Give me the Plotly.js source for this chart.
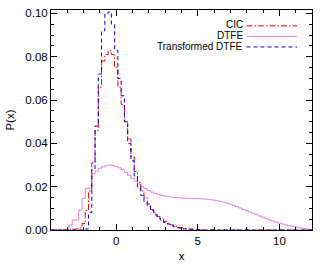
<!DOCTYPE html>
<html>
<head>
<meta charset="utf-8">
<script src="https://cdn.plot.ly/plotly-3.0.1.min.js"></script>
<style>html,body{margin:0;padding:0;background:#fff;}#chart{width:322px;height:270px;}</style>
</head>
<body>
<div id="chart"></div>
<script>
// Bin centres (bin width 0.2) from -4 to 12
const binStart = -4, binWidth = 0.2, nBins = 81;
const binCenters = [];
for (let i = 0; i < nBins; i++) binCenters.push(+(binStart + i * binWidth).toFixed(1));

// CIC values for bins centred from -2.8 to 5.0 (zeros elsewhere)
const cicFrom = -2.8;
const cicValues = [0.0003, 0.0004, 0.0005, 0.001, 0.003, 0.009, 0.018, 0.031, 0.046, 0.066,
  0.078, 0.081, 0.0828, 0.081, 0.075, 0.066, 0.058, 0.050, 0.042, 0.034,
  0.027, 0.022, 0.018, 0.015, 0.012, 0.0095, 0.0078, 0.0062, 0.005, 0.004,
  0.003, 0.0024, 0.0018, 0.0013, 0.001, 0.0007, 0.0005, 0.0004, 0.0003, 0.0002];

// DTFE values for bins centred from -2.8 to 12.0
const dtfeFrom = -2.8;
const dtfeValues = [0.0023, 0.0046, 0.0046, 0.0092, 0.0146, 0.0193, 0.0193, 0.026, 0.0272, 0.0285,
  0.0292, 0.0297, 0.0300, 0.0298, 0.0294, 0.0287, 0.0279, 0.0265, 0.0252, 0.0238,
  0.0225, 0.0213, 0.0201, 0.0191, 0.0182, 0.0175, 0.0169, 0.0164, 0.0160, 0.0157,
  0.0154, 0.0152, 0.0150, 0.0149, 0.0148, 0.0147, 0.0146, 0.0146, 0.0145, 0.0145,
  0.0144, 0.0143, 0.0142, 0.0140, 0.0138, 0.0135, 0.0132, 0.0128, 0.0124, 0.0119,
  0.0114, 0.0108, 0.0102, 0.0095, 0.0089, 0.0083, 0.0077, 0.0071, 0.0065, 0.0059,
  0.0053, 0.0047, 0.0042, 0.0037, 0.0032, 0.0028, 0.0024, 0.0020, 0.0017, 0.0014,
  0.0011, 0.0008, 0.0006, 0.0004, 0.0003];

// Transformed DTFE values for bins centred from -2.0 to 5.0
const tdtfeFrom = -2.0;
const tdtfeValues = [0.0002, 0.0005, 0.008, 0.028, 0.048, 0.072, 0.092, 0.100, 0.1007, 0.095,
  0.083, 0.070, 0.062, 0.050, 0.040, 0.032, 0.025, 0.020, 0.016, 0.013,
  0.011, 0.009, 0.007, 0.0055, 0.0045, 0.0035, 0.0028, 0.002, 0.0015, 0.001,
  0.0007, 0.0005, 0.0004, 0.0003, 0.0002, 0.0002];

const seriesNames = ["CIC", "DTFE", "Transformed DTFE"];
const seriesColors = ["#ff0000", "#e47ae4", "#0000ff"];
const seriesDash = ["6px,2px,1.5px,2px", "solid", "4px,3px"];

function fullSeries(from, vals) {
  const out = [];
  const off = Math.round((from - binStart) / binWidth);
  for (let i = 0; i < nBins; i++) {
    const j = i - off;
    out.push(j >= 0 && j < vals.length ? vals[j] : 0);
  }
  return out;
}

const ys = [fullSeries(cicFrom, cicValues), fullSeries(dtfeFrom, dtfeValues), fullSeries(tdtfeFrom, tdtfeValues)];
const order = [1, 0, 2];
const traces = order.map(k => ({
  x: binCenters, y: ys[k], type: "scatter", mode: "lines",
  line: {shape: "hvh", color: seriesColors[k], width: 1, dash: seriesDash[k]},
  name: seriesNames[k], showlegend: false, hoverinfo: "skip", cliponaxis: true
}));

const legendY = [0.932, 0.884, 0.836];
const annotations = [], shapes = [];
seriesNames.forEach((n, k) => {
  annotations.push({xref: "paper", yref: "paper", x: 0.741, y: legendY[k], xanchor: "right", yanchor: "middle",
    text: n, showarrow: false, borderpad: 0, height: 9, valign: "middle",
    font: {family: "Liberation Sans, Arial, sans-serif", size: 10, color: "#000"}});
  shapes.push({type: "line", xref: "paper", yref: "paper", x0: 0.749, x1: 0.943, y0: legendY[k] - 0.004, y1: legendY[k] - 0.004,
    line: {color: seriesColors[k], width: 1, dash: seriesDash[k]}});
});

const axisFont = {family: "Liberation Sans, Arial, sans-serif", size: 11.5, color: "#000"};
const layout = {
  width: 322, height: 270,
  margin: {l: 51, r: 10, t: 10, b: 40},
  paper_bgcolor: "#fff", plot_bgcolor: "#fff",
  showlegend: false,
  font: axisFont,
  xaxis: {range: [-4, 12], tickvals: [0, 5, 10], ticktext: ["0", "5", "10"], ticks: "inside", ticklen: 6, tickwidth: 1,
    tickcolor: "#000", showline: true, linecolor: "#000", linewidth: 1, mirror: "ticks", showgrid: false, zeroline: false,
    minor: {dtick: 1, tick0: 0, ticks: "inside", ticklen: 3, tickcolor: "#000", showgrid: false},
    title: {text: "x", font: axisFont, standoff: 6}, tickfont: axisFont},
  yaxis: {range: [0, 0.1016], tickvals: [0, 0.02, 0.04, 0.06, 0.08, 0.10], ticktext: ["0.00", "0.02", "0.04", "0.06", "0.08", "0.10"],
    ticks: "inside", ticklen: 6, tickwidth: 1, tickcolor: "#000", showline: true, linecolor: "#000", linewidth: 1, mirror: "ticks",
    showgrid: false, zeroline: false,
    minor: {dtick: 0.005, tick0: 0, ticks: "inside", ticklen: 3, tickcolor: "#000", showgrid: false},
    title: {text: "P(x)", font: axisFont, standoff: 8}, tickfont: axisFont},
  annotations: annotations, shapes: shapes
};
Plotly.newPlot("chart", traces, layout, {staticPlot: true, displayModeBar: false});
</script>
</body>
</html>
